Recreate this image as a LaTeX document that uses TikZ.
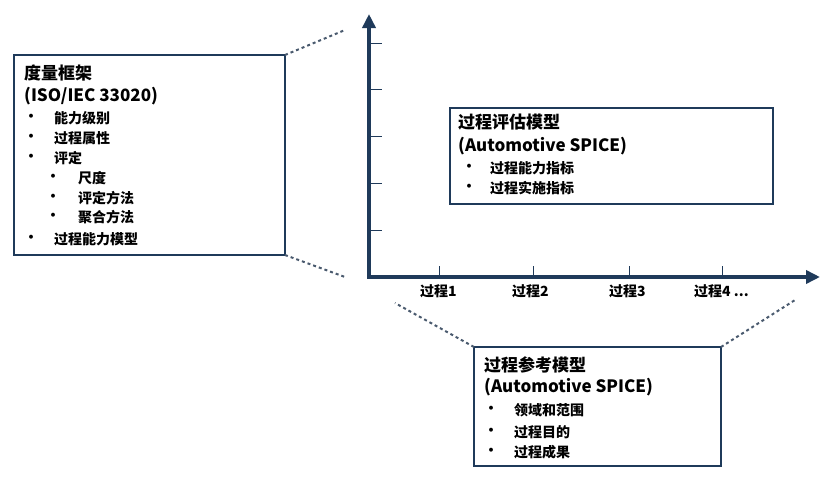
\documentclass[tikz,border=0pt]{standalone}
\usepackage{fontspec}
\setmainfont{Noto Sans CJK SC}
\usetikzlibrary{arrows.meta}
\definecolor{navy}{HTML}{1F3A5A}
\definecolor{dotc}{HTML}{4A5A6E}
\tikzset{
 box/.style={draw=navy,line width=2pt},
 dots/.style={dotc,line width=2pt,dash pattern=on 3pt off 3pt},
 ttl/.style={anchor=west,font=\fontsize{17}{17}\selectfont\bfseries,inner sep=0},
 itm/.style={anchor=west,font=\fontsize{14}{14}\selectfont\bfseries,inner sep=0},
 axis/.style={navy,line width=4pt,-{Triangle[length=14pt,width=13pt]}},
 tick/.style={navy,line width=0.8pt},
}
\begin{document}
\begin{tikzpicture}[x=1pt,y=-1pt]
\useasboundingbox (0,0) rectangle (840,488);
% left box
\draw[box] (14,55) rectangle (285,255);
\coordinate (ltr) at (285,55); \coordinate (lbr) at (285,255);
\coordinate (ld1) at (345,30); \coordinate (ld2) at (345,277);
\draw[dots] (ltr) -- (ld1); \draw[dots] (lbr) -- (ld2);
\node[ttl] (l1) at (24,73) {度量框架};
\node[ttl] (l2) at (24,96) {(ISO/IEC 33020)};
\foreach \y/\t [count=\i] in {118/能力级别,138/过程属性,158/评定,239/过程能力模型}{
 \node[itm] (lb\i) at (24,\y) {•}; \node[itm] (lt\i) at (54,\y) {\t};}
\foreach \y/\t [count=\i] in {178/尺度,198/评定方法,217/聚合方法}{
 \node[itm] (sb\i) at (46,\y) {•}; \node[itm] (st\i) at (78,\y) {\t};}
% axes
\coordinate (o) at (369,277);
\coordinate (yt) at (369,14); \coordinate (xt) at (820,277);
\draw[axis] ([yshift=2pt]o) -- (yt);
\draw[axis] ([xshift=-2pt]o) -- (xt);
\foreach \y in {43,89,136,183,230} \draw[tick] (369,\y) -- (382,\y);
\foreach \x in {439,533,629,722} \draw[tick] (\x,266) -- (\x,277);
\node[itm] (p1) at (420,291) {过程1};
\node[itm] (p2) at (512,291) {过程2};
\node[itm] (p3) at (609,291) {过程3};
\node[itm] (p4) at (694,291) {过程4 ...};
% middle box
\draw[box] (450,108) rectangle (773,204);
\node[ttl] (m1) at (458,122) {过程评估模型};
\node[ttl] (m2) at (458,146) {(Automotive SPICE)};
\node[itm] (mb1) at (462,168) {•}; \node[itm] (mt1) at (490,168) {过程能力指标};
\node[itm] (mb2) at (462,188) {•}; \node[itm] (mt2) at (490,188) {过程实施指标};
% bottom box
\draw[box] (474,347) rectangle (721,466);
\coordinate (btl) at (474,347); \coordinate (btr) at (721,347);
\coordinate (bd1) at (395,303); \coordinate (bd2) at (795,300);
\draw[dots] (btl) -- (bd1); \draw[dots] (btr) -- (bd2);
\node[ttl] (b1) at (484,365) {过程参考模型};
\node[ttl] (b2) at (484,387) {(Automotive SPICE)};
\foreach \y/\t [count=\i] in {410/领域和范围,432/过程目的,452/过程成果}{
 \node[itm] (bb\i) at (484,\y) {•}; \node[itm] (bt\i) at (514,\y) {\t};}
\end{tikzpicture}
\end{document}
